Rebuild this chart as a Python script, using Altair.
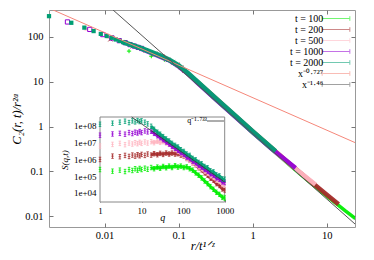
import altair as alt
import pandas as pd

# ---------------- data: main panel ----------------
SERIES = ["t = 100", "t = 200", "t = 500", "t = 1000", "t = 2000"]
LINE_LABELS = ["x⁻⁰·⁷²⁷", "x⁻¹·⁴⁶"]
SERIES_COLORS = ["#00ee00", "#a52a2a", "#ffb6c1", "#9400d3", "#009e73"]
LINE_COLORS = ["#f5877a", "#555555"]

# sparse points (small r)
PTS_X_T100 = [0.0214, 0.0428, 0.0642, 0.0856, 0.107, 0.128, 0.150, 0.171, 0.193, 0.214]
PTS_Y_T100 = [48, 37, 31, 25.5, 20.5, 15.5, 12.5, 10.3, 8.8, 7.5]
PTS_X_T200 = [0.012, 0.024, 0.036, 0.048, 0.060, 0.072, 0.084, 0.096, 0.108, 0.120]
PTS_Y_T200 = [88, 62, 50, 42, 36, 30.5, 26.7, 23.7, 20.5, 17.6]
PTS_X_T500 = [0.00562, 0.0112, 0.0169, 0.0225, 0.0281, 0.0337, 0.0393, 0.045, 0.0506, 0.0562]
PTS_Y_T500 = [150, 99, 78, 66, 58, 53, 48, 44, 41, 38]
PTS_X_T1000 = [0.00316, 0.00632, 0.00948, 0.0126, 0.0158, 0.019, 0.0221, 0.0253, 0.0284, 0.0316]
PTS_Y_T1000 = [214, 146, 112, 94, 82, 74, 67, 62, 58, 55]
PTS_X_T2000 = [0.00178, 0.00356, 0.00534, 0.00712, 0.0089, 0.0107, 0.0125, 0.0142, 0.016, 0.0178]
PTS_Y_T2000 = [288, 205, 160, 134, 116, 104, 95, 87, 81, 76]

# dense part (large r), drawn as a thick band
BAND_X_T100 = [0.214, 0.316, 0.562, 1.0, 1.78, 3.16, 5.62, 10.0, 17.8, 24.4]
BAND_Y_T100 = [7.24, 3.98, 1.70, 0.724, 0.316, 0.138, 0.0617, 0.0282, 0.0132, 0.00891]
BAND_X_T200 = [0.12, 0.178, 0.316, 0.562, 1.0, 1.78, 3.16, 5.62, 10.0, 14.4]
BAND_Y_T200 = [17.6, 10.0, 4.27, 1.82, 0.776, 0.339, 0.148, 0.0661, 0.0302, 0.0186]
BAND_X_T500 = [0.0562, 0.075, 0.1, 0.133, 0.178, 0.316, 0.562, 1.0, 1.78, 3.16, 7.03]
BAND_Y_T500 = [38.0, 30.0, 22.4, 15.2, 9.77, 4.17, 1.78, 0.759, 0.331, 0.145, 0.0513]
BAND_X_T1000 = [0.0316, 0.0562, 0.075, 0.1, 0.133, 0.178, 0.316, 0.562, 1.0, 1.78, 3.78]
BAND_Y_T1000 = [53.7, 36.3, 29.8, 21.9, 15.1, 9.55, 4.07, 1.74, 0.741, 0.324, 0.120]
BAND_X_T2000 = [0.0178, 0.0316, 0.0562, 0.075, 0.1, 0.133, 0.178, 0.316, 0.562, 1.0, 2.03]
BAND_Y_T2000 = [75.9, 55.0, 38.0, 30.5, 22.9, 15.5, 10.0, 4.27, 1.82, 0.776, 0.282]

# reference power laws
LINE1_X = [0.0018, 24.0]
LINE1_Y = [430, 0.44]
LINE2_X = [0.01, 24.0]
LINE2_Y = [582, 0.00676]

X_DOMAIN = [0.00178, 24.0]
Y_DOMAIN = [0.0058, 395]
X_TICKS = [0.01, 0.1, 1, 10]
Y_TICKS = [0.01, 0.1, 1, 10, 100]

# ---------------- data: inset ----------------
Q = [1, 2, 3, 4, 5, 6, 7, 8, 9, 10, 12, 14, 17, 20, 24, 28, 33, 39, 46, 54, 64, 75, 88,
     104, 122, 144, 170, 200, 236, 278, 328, 386, 455, 536, 632, 745, 878, 1000]
S_T100 = [2.5e5, 2.0e5, 2.3e5, 1.9e5, 2.5e5, 2.2e5, 2.8e5, 2.3e5, 2.9e5, 2.5e5, 3.0e5, 2.6e5,
          3.3e5, 2.8e5, 3.5e5, 3.0e5, 3.8e5, 3.2e5, 4.0e5, 3.3e5, 4.2e5, 3.5e5, 4.0e5, 3.3e5,
          3.6e5, 2.8e5, 2.3e5, 1.58e5, 1.15e5, 7.9e4, 5.2e4, 3.6e4, 2.4e4, 1.66e4, 1.1e4,
          8.3e3, 5.5e3, 5.0e3]
S_T200 = [1.0e6, 1.58e6, 1.45e6, 1.74e6, 1.51e6, 1.82e6, 1.58e6, 1.91e6, 1.66e6, 2.0e6,
          1.74e6, 2.1e6, 1.82e6, 2.2e6, 1.91e6, 2.3e6, 2.0e6, 2.4e6, 2.1e6, 2.4e6, 2.1e6,
          2.2e6, 1.82e6, 1.58e6, 1.15e6, 9.1e5, 6.3e5, 4.8e5, 3.2e5, 2.4e5, 1.58e5, 1.15e5,
          7.6e4, 5.8e4, 3.6e4, 2.8e4, 1.74e4, 1.51e4]
S_T500 = [6.3e6, 7.9e6, 9.1e6, 7.6e6, 9.5e6, 8.3e6, 1.0e7, 8.7e6, 1.05e7, 9.1e6, 1.1e7, 9.5e6,
          1.15e7, 1.0e7, 1.2e7, 1.05e7, 1.15e7, 9.5e6, 7.9e6, 5.8e6, 4.2e6, 3.0e6, 2.2e6,
          1.66e6, 1.15e6, 9.1e5, 6.3e5, 5.0e5, 3.5e5, 2.8e5, 1.9e5, 1.5e5, 1.05e5, 8.3e4,
          5.8e4, 4.8e4, 3.2e4, 2.9e4]
S_T1000 = [2.8e7, 3.3e7, 3.6e7, 3.2e7, 4.0e7, 3.5e7, 4.2e7, 3.8e7, 4.6e7, 4.0e7, 5.0e7, 4.4e7,
           4.8e7, 3.6e7, 2.6e7, 2.0e7, 1.5e7, 1.1e7, 8.3e6, 6.0e6, 4.6e6, 3.5e6, 2.5e6, 2.0e6,
           1.38e6, 1.1e6, 7.9e5, 6.3e5, 4.4e5, 3.5e5, 2.5e5, 2.0e5, 1.38e5, 1.15e5, 7.9e4,
           6.6e4, 4.6e4, 4.2e4]
S_T2000 = [1.26e8, 1.45e8, 1.66e8, 1.91e8, 1.58e8, 2.0e8, 1.74e8, 2.09e8, 1.82e8, 2.0e8,
           1.66e8, 1.32e8, 9.5e7, 6.3e7, 4.2e7, 3.2e7, 2.3e7, 1.66e7, 1.26e7, 9.1e6, 6.9e6,
           5.5e6, 3.8e6, 3.0e6, 2.1e6, 1.74e6, 1.15e6, 9.5e5, 6.6e5, 5.5e5, 3.8e5, 3.2e5,
           2.1e5, 1.82e5, 1.2e5, 1.05e5, 6.9e4, 6.6e4]
INSET_LINE_LABEL = ["q⁻¹·⁷³³"]
INSET_LINE_Q = [5.78, 1000]
INSET_LINE_S = [3.4e8, 4.5e4]
Q_DOMAIN = [1, 1000]
S_DOMAIN = [2900, 3.4e8]
Q_TICKS = [1, 10, 100, 1000]
S_TICKS = [1e4, 1e5, 1e6, 1e7, 1e8]

PTS = {
    "t = 100": (PTS_X_T100, PTS_Y_T100), "t = 200": (PTS_X_T200, PTS_Y_T200),
    "t = 500": (PTS_X_T500, PTS_Y_T500), "t = 1000": (PTS_X_T1000, PTS_Y_T1000),
    "t = 2000": (PTS_X_T2000, PTS_Y_T2000),
}
BANDS = {
    "t = 100": (BAND_X_T100, BAND_Y_T100), "t = 200": (BAND_X_T200, BAND_Y_T200),
    "t = 500": (BAND_X_T500, BAND_Y_T500), "t = 1000": (BAND_X_T1000, BAND_Y_T1000),
    "t = 2000": (BAND_X_T2000, BAND_Y_T2000),
}
INSET = {"t = 100": S_T100, "t = 200": S_T200, "t = 500": S_T500,
         "t = 1000": S_T1000, "t = 2000": S_T2000}

# ---------------- styles ----------------
FONT = "Liberation Serif"
PLUS = "M-1,0H1M0,-1V1"
CROSS = "M-1,-1L1,1M-1,1L1,-1"
STAR = "M-1,0H1M0,-1V1M-0.7,-0.7L0.7,0.7M-0.7,0.7L0.7,-0.7"
SHAPE = {"t = 100": PLUS, "t = 200": CROSS, "t = 500": STAR,
         "t = 1000": "square", "t = 2000": "square"}
FILLED = {"t = 100": False, "t = 200": False, "t = 500": False,
          "t = 1000": False, "t = 2000": True}
BAND_W = {"t = 100": 3.5, "t = 200": 4.5, "t = 500": 4.5, "t = 1000": 4.5, "t = 2000": 5}
IBEAM = "M0,-1.4V1.4M-0.8,-1.4H0.8M-0.8,1.4H0.8M-0.8,0H0.8"
COLOR_OF = dict(zip(SERIES, SERIES_COLORS))
TICK_COLOR = "#777"


def E(v):
    return alt.ExprRef(expr=str(v))


color_main = alt.Color(
    "series:N",
    scale=alt.Scale(domain=SERIES + LINE_LABELS, range=SERIES_COLORS + LINE_COLORS),
    legend=alt.Legend(
        orient="none", legendX=281.5, legendY=3, title=None,
        symbolType="M-3,0H3M-3,-0.5V0.5M3,-0.5V0.5", symbolSize=85,
        symbolStrokeWidth=1, symbolOpacity=0.55, symbolFillColor="transparent",
        labelAlign="right", labelOffset=E(-18.2), labelFont=FONT, labelFontSize=10,
        labelColor="#000", rowPadding=E(-2.3), padding=0,
    ),
)
main_x_scale = alt.Scale(type="log", domain=X_DOMAIN, nice=False)
main_y_scale = alt.Scale(type="log", domain=Y_DOMAIN, nice=False)
x_main = alt.X(
    "x:Q", scale=main_x_scale,
    axis=alt.Axis(values=X_TICKS, format="~g", title="r/t¹ᐟᶻ", titleFontStyle="italic",
                  titleFontSize=12.5, titleFontWeight="normal", labelFontSize=10.5,
                  tickSize=4, offset=E(-4), domain=False, labelPadding=3,
                  titlePadding=E(-1), tickColor=TICK_COLOR, labelFlush=False,
                  labelOverlap=False, grid=False),
)
y_main = alt.Y(
    "y:Q", scale=main_y_scale,
    axis=alt.Axis(values=Y_TICKS, format="~g", title="C₂(r, t)/r²ᵅ", titleFontStyle="italic",
                  titleFontSize=12.5, titleFontWeight="normal", labelFontSize=10.5,
                  tickSize=4, offset=E(-4), domain=False, labelPadding=6, titlePadding=1,
                  tickColor=TICK_COLOR, labelFlush=False, labelOverlap=False, grid=False),
)
x_plain = alt.X("x:Q", scale=main_x_scale, axis=None)
y_plain = alt.Y("y:Q", scale=main_y_scale, axis=None)
x_top = alt.X("x:Q", scale=main_x_scale,
              axis=alt.Axis(orient="top", values=X_TICKS, labels=False, title=None,
                            tickSize=4, offset=E(-4), domain=False, tickColor=TICK_COLOR,
                            grid=False))
y_right = alt.Y("y:Q", scale=main_y_scale,
                axis=alt.Axis(orient="right", values=Y_TICKS, labels=False, title=None,
                              tickSize=4, offset=E(-4), domain=False, tickColor=TICK_COLOR,
                              grid=False))

main_layers = []
first = True
for s in SERIES:
    bx, by = BANDS[s]
    px, py = PTS[s]
    band_df = pd.DataFrame({"x": bx, "y": by, "series": s})
    pts_df = pd.DataFrame({"x": px, "y": py, "series": s})
    main_layers.append(
        alt.Chart(band_df).mark_line(strokeWidth=BAND_W[s], clip=True, opacity=0.95)
        .encode(x=x_main if first else x_plain, y=y_main if first else y_plain,
                color=color_main)
    )
    first = False
    main_layers.append(
        alt.Chart(pts_df).mark_point(shape=SHAPE[s], filled=FILLED[s], size=18,
                                     strokeWidth=1, opacity=1)
        .encode(x=x_plain, y=y_plain, color=color_main)
    )
ref_lines = [(LINE_LABELS[0], LINE1_X, LINE1_Y), (LINE_LABELS[1], LINE2_X, LINE2_Y)]
for i, (lab, lx, ly) in enumerate(ref_lines):
    df = pd.DataFrame({"x": lx, "y": ly, "series": lab})
    last = i == len(ref_lines) - 1
    main_layers.append(
        alt.Chart(df).mark_line(strokeWidth=1, clip=True)
        .encode(x=x_top if last else x_plain, y=y_right if last else y_plain,
                color=color_main)
    )
main = alt.layer(*main_layers).resolve_axis(x="independent", y="independent")

# ---------------- inset ----------------
x_in = alt.X(
    "q:Q",
    scale=alt.Scale(type="log", domain=Q_DOMAIN, nice=False, range=[51, 175.7]),
    axis=alt.Axis(orient="bottom", offset=E(-28), values=Q_TICKS, format="~g", title="q",
                  titleFontStyle="italic", titleFontSize=10, titleFontWeight="normal",
                  labelFontSize=9, tickSize=3, domain=False, labelPadding=4,
                  titlePadding=E(-3), tickColor=TICK_COLOR, labelFlush=False,
                  labelOverlap=False, grid=False),
)
y_in = alt.Y(
    "S:Q",
    scale=alt.Scale(type="log", domain=S_DOMAIN, nice=False, range=[192, 107]),
    axis=alt.Axis(orient="left", offset=E(-54), values=S_TICKS,
                  labelExpr="'1e+0' + round(log(datum.value) / LN10)",
                  title="S(q,t)", titleFontStyle="italic", titleFontSize=9,
                  titleFontWeight="normal", labelFontSize=9, tickSize=3, domain=False,
                  labelPadding=4, titlePadding=4, tickColor=TICK_COLOR,
                  labelOverlap=False, grid=False),
)

box_df = pd.DataFrame({"q": [Q_DOMAIN[0]], "q2": [Q_DOMAIN[1]],
                       "S": [S_DOMAIN[0]], "S2": [S_DOMAIN[1]]})
inset_layers = [
    alt.Chart(box_df).mark_rect(fill="white", stroke="#888", strokeWidth=1)
    .encode(x=x_in, x2="q2:Q", y=y_in, y2="S2:Q")
]
for s in SERIES:
    df = pd.DataFrame({"q": Q, "S": INSET[s]})
    inset_layers.append(
        alt.Chart(df).transform_filter(alt.datum.q >= 17)
        .mark_line(strokeWidth=3, color=COLOR_OF[s], opacity=0.9)
        .encode(x=x_in, y=y_in)
    )
    inset_layers.append(
        alt.Chart(df).mark_point(shape=IBEAM, filled=False, size=10, strokeWidth=0.8,
                                 color=COLOR_OF[s], opacity=1)
        .encode(x=x_in, y=y_in)
    )
line_df = pd.DataFrame({"q": INSET_LINE_Q, "S": INSET_LINE_S, "lab": INSET_LINE_LABEL[0]})
inset_layers.append(
    alt.Chart(line_df).mark_line(strokeWidth=0.8)
    .encode(
        x=x_in, y=y_in,
        color=alt.Color("lab:N", scale=alt.Scale(domain=INSET_LINE_LABEL, range=["#333333"]),
                        legend=alt.Legend(orient="none", legendX=162.5, legendY=107, title=None,
                                          symbolType="M-3,0H3", symbolSize=32,
                                          symbolStrokeWidth=1, symbolOpacity=0.8,
                                          labelAlign="right", labelOffset=E(-12.5),
                                          labelFont=FONT, labelFontSize=8,
                                          labelColor="#000", padding=0)),
    )
)
inset = alt.layer(*inset_layers)

chart = (
    alt.layer(main, inset)
    .resolve_scale(x="independent", y="independent", color="independent")
    .properties(width=306, height=217,
                padding={"left": 41, "top": 2, "right": 11, "bottom": 25},
                autosize=alt.AutoSizeParams(type="none"))
    .configure_view(stroke="#999", strokeWidth=1)
    .configure_axis(labelFont=FONT, titleFont=FONT, labelColor="#000", titleColor="#000")
    .configure_legend(labelFont=FONT)
)

chart.save("out.html", embed_options={"renderer": "svg", "actions": False})
